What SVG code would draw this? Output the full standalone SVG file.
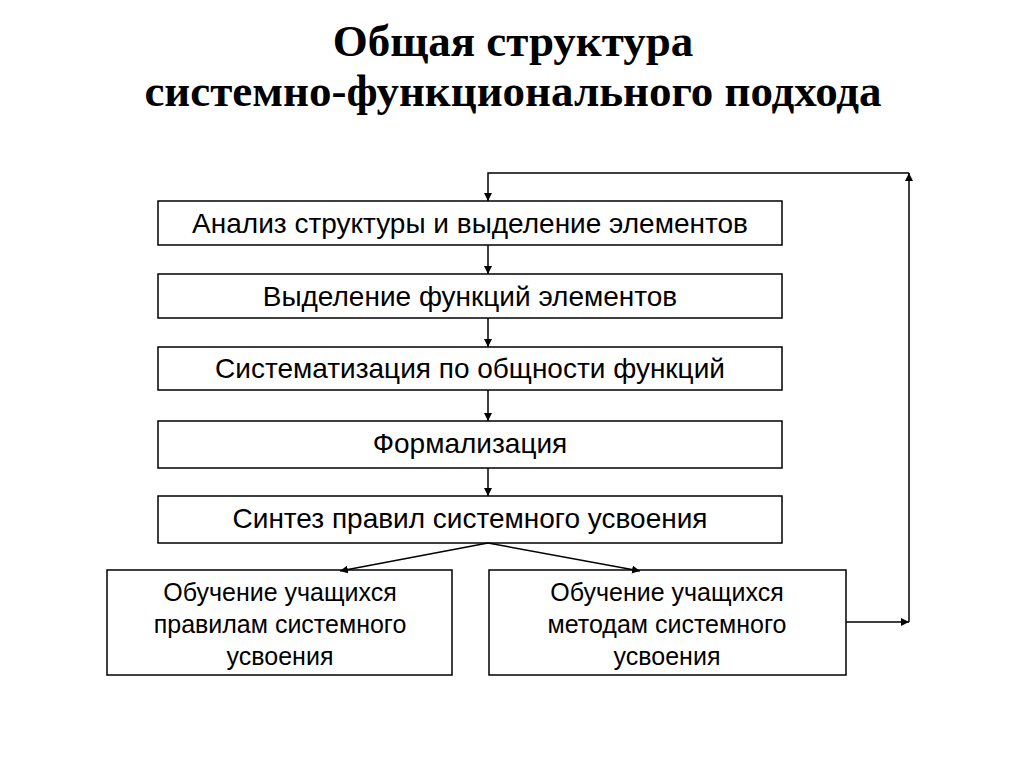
<svg xmlns="http://www.w3.org/2000/svg" width="1024" height="767" viewBox="0 0 1024 767">
<style>
.b{fill:#fff;stroke:#000;stroke-width:1.5}
.t{font-family:"Liberation Sans",Arial,sans-serif;font-size:28px;text-anchor:middle;fill:#000}
.s{font-family:"Liberation Sans",Arial,sans-serif;font-size:25px;text-anchor:middle;fill:#000}
.h{font-family:"Liberation Serif","Times New Roman",serif;font-size:45px;font-weight:bold;text-anchor:middle;fill:#000}
.c{fill:none;stroke:#000;stroke-width:1.5;marker-end:url(#a)}
</style>
<defs><marker id="a" viewBox="0 0 10 10" refX="10" refY="5" markerWidth="8" markerHeight="8" markerUnits="userSpaceOnUse" orient="auto"><path d="M0,0L10,5L0,10z"/></marker></defs>
<rect width="1024" height="767" fill="#fff"/>
<text class="h" x="513" y="56">Общая структура</text>
<text class="h" x="513" y="106">системно-функционального подхода</text>
<g id="n1"><rect class="b" x="158" y="201" width="624" height="44"/><text class="t" x="470" y="233">Анализ структуры и выделение элементов</text></g>
<g id="n2"><rect class="b" x="158" y="274" width="624" height="44"/><text class="t" x="470" y="306">Выделение функций элементов</text></g>
<g id="n3"><rect class="b" x="158" y="347" width="624" height="43"/><text class="t" x="470" y="378">Систематизация по общности функций</text></g>
<g id="n4"><rect class="b" x="158" y="421" width="624" height="47"/><text class="t" x="470" y="453">Формализация</text></g>
<g id="n5"><rect class="b" x="158" y="496" width="624" height="47"/><text class="t" x="470" y="528">Синтез правил системного усвоения</text></g>
<g id="n6"><rect class="b" x="107" y="570" width="345" height="105"/><text class="s" x="280" y="601">Обучение учащихся</text><text class="s" x="280" y="633">правилам системного</text><text class="s" x="280" y="665">усвоения</text></g>
<g id="n7"><rect class="b" x="489" y="570" width="357" height="105"/><text class="s" x="667" y="601">Обучение учащихся</text><text class="s" x="667" y="633">методам системного</text><text class="s" x="667" y="665">усвоения</text></g>
<g id="connectors">
<path class="c" d="M488,245V274"/>
<path class="c" d="M488,318V347"/>
<path class="c" d="M488,390V421"/>
<path class="c" d="M488,468V496"/>
<path class="c" d="M488,543L340,571"/>
<path class="c" d="M488,543L640,571"/>
<path class="c" d="M846,622H909"/>
<path class="c" d="M909,622V173"/>
<path class="c" d="M909,173H488V201"/>
</g>
</svg>
